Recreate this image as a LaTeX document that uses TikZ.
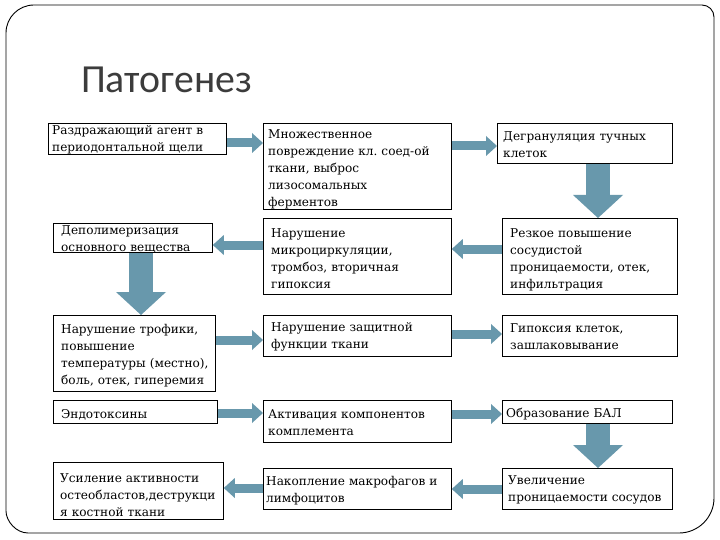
\documentclass[tikz,border=0pt]{standalone}
\usepackage{fontspec}
\setmainfont{DejaVu Serif}
\newfontfamily\titlefont{Carlito}
\usetikzlibrary{arrows.meta}
\definecolor{arrcol}{RGB}{104,152,172}
\definecolor{titlecol}{RGB}{60,60,60}
\tikzset{
  box/.style={draw=black, line width=0.8pt, fill=white, anchor=north west,
    inner sep=0pt},
  txt/.style={inner sep=0pt, align=left, anchor=west,
    font=\fontsize{12.1pt}{17pt}\selectfont\frenchspacing, text=black},
  harrow/.style={draw=arrcol, line width=9pt,
    -{Triangle[width=20pt,length=11pt,line width=0pt]}},
  varrow/.style={draw=arrcol, line width=24pt,
    -{Triangle[width=50pt,length=23pt,line width=0pt]}},
}
% name, x1, y1, x2, y2, left padding, down shift, text
\newcommand{\mybox}[8]{%
  \pgfmathsetmacro{\bw}{#4-#2}\pgfmathsetmacro{\bh}{#5-#3}\pgfmathsetmacro{\tw}{#4-#2-#6-1}%
  \node[box, minimum width=\bw pt, minimum height=\bh pt] (#1) at (#2,#3) {};
  \node[txt, text width=\tw pt, xshift=#6 pt, yshift=-#7 pt] (#1-t) at (#1.west) {#8};}
\begin{document}
\begin{tikzpicture}[x=1pt,y=-1pt]
\useasboundingbox (0,0) rectangle (720,540);
\fill[white] (0,0) rectangle (720,540);
% frame
\draw[line width=0.9pt] (6,33) .. controls (6,17.5) and (18.5,5) .. (34,5) -- (702,5)
  .. controls (708.6,5) and (714,10.4) .. (714,17) -- (714,498)
  .. controls (714,517.3) and (698.3,533) .. (679,533) -- (28,533)
  .. controls (15.9,533) and (6,520.9) .. (6,511) -- cycle;
\node[anchor=base west, inner sep=0pt, text=titlecol, font=\titlefont\fontsize{39.8pt}{42pt}\selectfont] (title) at (81,93) {Патогенез};
% boxes
\mybox{A}{48}{123}{226}{154}{4}{1.2}{Раздражающий агент в\\периодонтальной щели}
\mybox{B}{263}{123}{451}{209}{5}{3}{Множественное\\повреждение кл. соед-ой\\ткани, выброс\\лизосомальных\\ферментов}
\mybox{C}{497}{123}{672}{163}{6}{1.5}{Дегрануляция тучных\\клеток}
\mybox{D}{53}{223}{212}{252}{8}{1.2}{Деполимеризация\\основного вещества}
\mybox{E}{263}{218}{451}{294}{8}{2.5}{Нарушение\\микроциркуляции,\\тромбоз, вторичная\\гипоксия}
\mybox{F}{502}{218}{677}{294}{8}{3.5}{Резкое повышение\\сосудистой\\проницаемости, отек,\\инфильтрация}
\mybox{G}{53}{315}{215}{391}{8}{2.5}{Нарушение трофики,\\повышение\\температуры (местно),\\боль, отек, гиперемия}
\mybox{H}{263}{315}{451}{356}{8}{1}{Нарушение защитной\\функции ткани}
\mybox{I}{502}{315}{677}{356}{8}{1}{Гипоксия клеток,\\зашлаковывание}
\mybox{J}{53}{400}{217}{423}{8}{2.5}{Эндотоксины}
\mybox{K}{263}{400}{451}{442}{5}{1.5}{Активация компонентов\\комплемента}
\mybox{L}{502}{400}{672}{423}{4}{2.5}{Образование БАЛ}
\mybox{M}{53}{462}{223}{519}{7}{4}{Усиление активности\\остеобластов,деструкци\\я костной ткани}
\mybox{N}{263}{468}{451}{509}{3}{2}{Накопление макрофагов и\\лимфоцитов}
\mybox{O}{502}{468}{672}{509}{6}{1}{Увеличение\\проницаемости сосудов}
% arrows
\draw[harrow] (A.east |- 0,143) -- (B.west |- 0,143);
\draw[harrow] (B.east |- 0,146) -- (C.west |- 0,146);
\draw[varrow] (C.south -| 598,0) -- (F.north -| 598,0);
\draw[harrow] (F.west |- 0,249) -- (E.east |- 0,249);
\draw[harrow] (E.west |- 0,245) -- (D.east |- 0,245);
\draw[varrow] (D.south -| 141,0) -- (G.north -| 141,0);
\draw[harrow] (G.east |- 0,340) -- (H.west |- 0,340);
\draw[harrow] (H.east |- 0,334) -- (I.west |- 0,334);
\draw[harrow] (J.east |- 0,413) -- (K.west |- 0,413);
\draw[harrow] (K.east |- 0,414) -- (L.west |- 0,414);
\draw[varrow] (L.south -| 598,0) -- (O.north -| 598,0);
\draw[harrow] (O.west |- 0,489) -- (N.east |- 0,489);
\draw[harrow] (N.west |- 0,488) -- (M.east |- 0,488);
\end{tikzpicture}
\end{document}
